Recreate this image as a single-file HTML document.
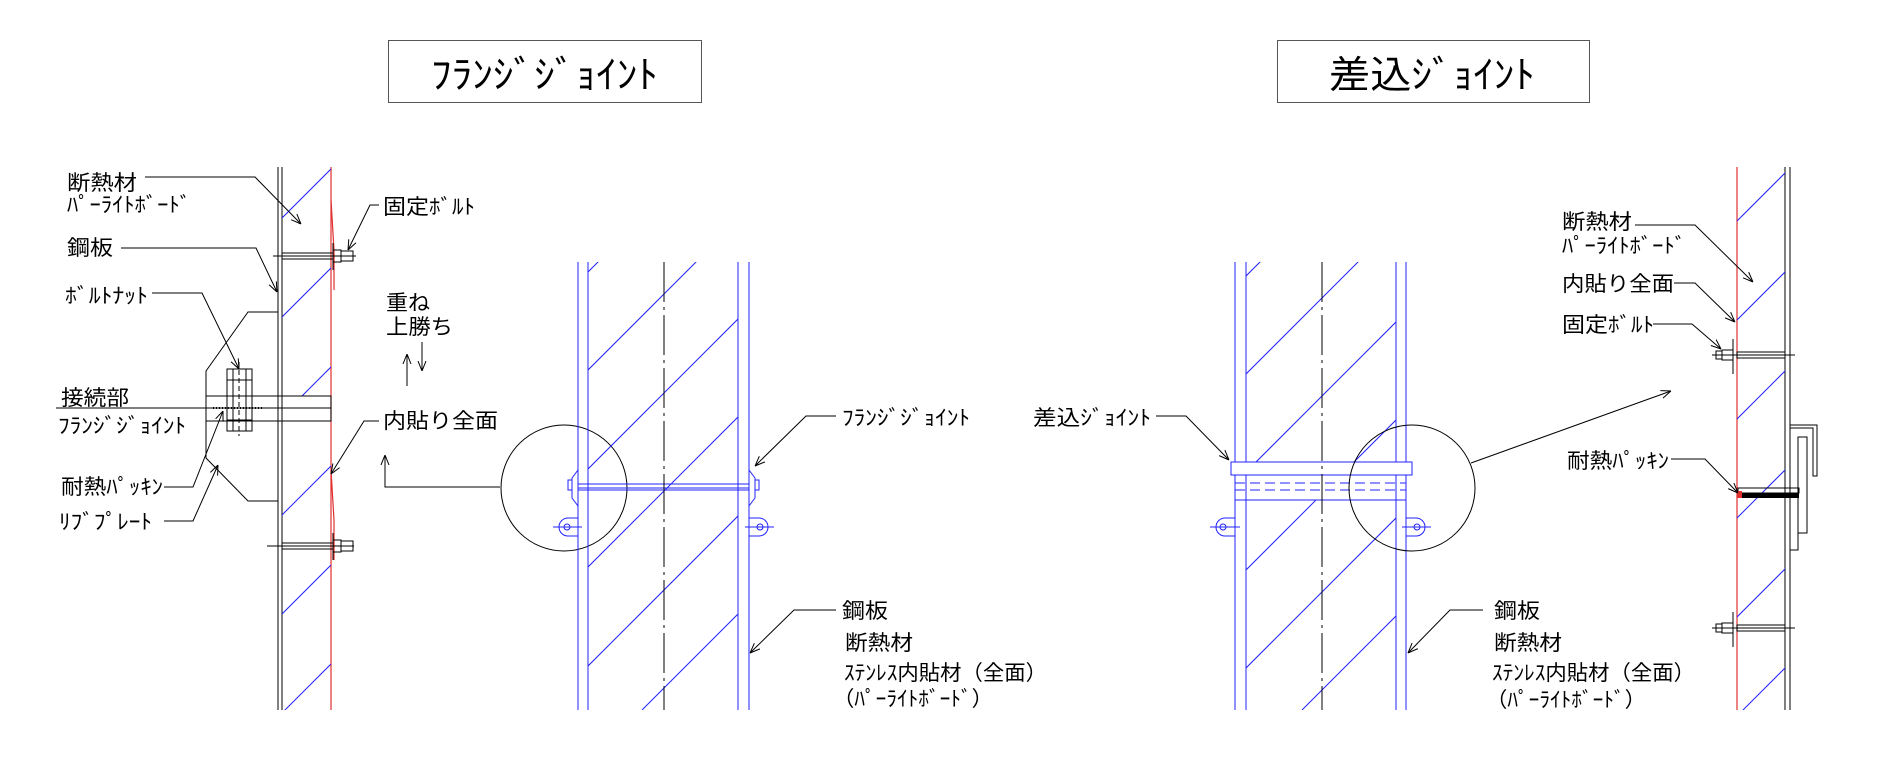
<!DOCTYPE html>
<html><head><meta charset="utf-8"><style>
html,body{margin:0;padding:0;background:#fff;overflow:hidden;width:1900px;height:777px;}
svg{display:block;}
text{font-family:"Liberation Sans","Noto Sans CJK JP",sans-serif;fill:#000;}
</style></head><body>
<svg width="1900" height="777" viewBox="0 0 1900 777" xmlns="http://www.w3.org/2000/svg">
<defs>
<clipPath id="cL"><rect x="282" y="167" width="49" height="229"/><rect x="282" y="421" width="49" height="289"/></clipPath>
<clipPath id="c1"><rect x="588" y="262" width="150" height="448"/></clipPath>
<clipPath id="c2"><rect x="1246" y="262" width="150" height="448"/></clipPath>
<clipPath id="cR"><rect x="1737" y="167" width="48" height="326"/><rect x="1737" y="498" width="48" height="212"/></clipPath>
<marker id="ar" viewBox="0 0 10 10" refX="10" refY="5" markerWidth="10" markerHeight="10" orient="auto" markerUnits="userSpaceOnUse"><path d="M0,1 L10,5 L0,9" fill="none" stroke="#000" stroke-width="1"/></marker>
</defs>

<rect x="388.5" y="40.5" width="313" height="62" fill="none" stroke="#555" stroke-width="1"/>
<text x="431" y="88" font-size="38" textLength="227" lengthAdjust="spacingAndGlyphs">ﾌﾗﾝｼﾞｼﾞｮｲﾝﾄ</text>
<rect x="1277.5" y="40.5" width="312" height="62" fill="none" stroke="#555" stroke-width="1"/>
<text x="1329" y="88" font-size="38" textLength="206" lengthAdjust="spacingAndGlyphs">差込ｼﾞｮｲﾝﾄ</text>

<g stroke="#000" stroke-width="1" fill="none">
<line x1="278" y1="167" x2="278" y2="710"/>
<line x1="282" y1="167" x2="282" y2="710"/>
</g>
<line x1="331" y1="167" x2="331" y2="710" stroke="#e03030" stroke-width="1.2"/>
<g stroke="#e03030" stroke-width="1.2" fill="none">
<path d="M331,200 L334,250 L334,290"/><path d="M331,470 L334,520 L334,560"/>
</g>
<g clip-path="url(#cL)" stroke="#2020ff" stroke-width="1">
<line x1="250" y1="250" x2="400" y2="100"/><line x1="250" y1="349" x2="400" y2="199"/><line x1="250" y1="448" x2="400" y2="298"/><line x1="250" y1="547" x2="400" y2="397"/><line x1="250" y1="646" x2="400" y2="496"/><line x1="250" y1="745" x2="400" y2="595"/>
</g>
<g stroke="#000" stroke-width="1" fill="none">
<line x1="273" y1="256" x2="356" y2="256"/>
<rect x="282" y="253" width="51" height="6"/>
<rect x="333" y="250" width="8" height="12"/><rect x="341" y="251" width="12" height="10"/>
<line x1="333" y1="243" x2="333" y2="270"/>
<line x1="267" y1="546" x2="354" y2="546"/>
<rect x="282" y="543" width="51" height="6"/>
<rect x="333" y="540" width="8" height="12"/><rect x="341" y="541" width="12" height="10"/>
<line x1="333" y1="533" x2="333" y2="560"/>
<polyline points="278,312 248,312 206,371 206,458 248,501 278,501"/>
<rect x="206" y="396" width="125" height="25"/>
<line x1="56" y1="408" x2="331" y2="408"/>
<rect x="227" y="369" width="25" height="62"/>
<line x1="233" y1="369" x2="233" y2="431"/><line x1="246" y1="369" x2="246" y2="431"/>
<line x1="227" y1="380" x2="252" y2="380"/><line x1="227" y1="420" x2="252" y2="420"/>
<line x1="239" y1="362" x2="239" y2="436" stroke-dasharray="5,3"/>
</g>
<line x1="213" y1="408" x2="264" y2="408" stroke="#000" stroke-width="2" stroke-dasharray="1,2"/>

<g font-size="21">
<text x="67" y="190" textLength="70" lengthAdjust="spacingAndGlyphs">断熱材</text>
<text x="67" y="212" textLength="124" lengthAdjust="spacingAndGlyphs">ﾊﾟｰﾗｲﾄﾎﾞｰﾄﾞ</text>
<text x="67" y="255" textLength="46" lengthAdjust="spacingAndGlyphs">鋼板</text>
<text x="65" y="303" textLength="83" lengthAdjust="spacingAndGlyphs">ﾎﾞﾙﾄﾅｯﾄ</text>
<text x="61" y="405" textLength="68" lengthAdjust="spacingAndGlyphs">接続部</text>
<text x="58" y="433" textLength="128" lengthAdjust="spacingAndGlyphs">ﾌﾗﾝｼﾞｼﾞｮｲﾝﾄ</text>
<text x="61" y="494" textLength="102" lengthAdjust="spacingAndGlyphs">耐熱ﾊﾟｯｷﾝ</text>
<text x="59" y="529" textLength="93" lengthAdjust="spacingAndGlyphs">ﾘﾌﾞﾌﾟﾚｰﾄ</text>
<text x="383" y="214" textLength="92" lengthAdjust="spacingAndGlyphs">固定ﾎﾞﾙﾄ</text>
<text x="386" y="310" textLength="44" lengthAdjust="spacingAndGlyphs">重ね</text>
<text x="386" y="334" textLength="67" lengthAdjust="spacingAndGlyphs">上勝ち</text>
<text x="383" y="428" textLength="115" lengthAdjust="spacingAndGlyphs">内貼り全面</text>
</g>
<g stroke="#000" stroke-width="1" fill="none">
<polyline points="145,177 255,177 301,224" marker-end="url(#ar)"/>
<polyline points="121,248 256,248 277,292" marker-end="url(#ar)"/>
<polyline points="152,293 202,293 239,369" marker-end="url(#ar)"/>
<polyline points="164,487 193,487 223,411" marker-end="url(#ar)"/>
<polyline points="164,521 193,521 218,465" marker-end="url(#ar)"/>
<polyline points="379,205 370,205 348,250" marker-end="url(#ar)"/>
<polyline points="379,421 364,421 331,474" marker-end="url(#ar)"/>
<line x1="407" y1="386" x2="407" y2="354" marker-end="url(#ar)"/>
<line x1="422" y1="342" x2="422" y2="371" marker-end="url(#ar)"/>
<polyline points="500,487 385,487 385,455" marker-end="url(#ar)"/>
<circle cx="564" cy="488" r="63"/>
</g>

<g stroke="#2020ff" stroke-width="1" fill="none">
<line x1="578" y1="262" x2="578" y2="710"/><line x1="588" y1="262" x2="588" y2="710"/>
<line x1="738" y1="262" x2="738" y2="710"/><line x1="749" y1="262" x2="749" y2="710"/>
<g clip-path="url(#c1)">
<line x1="150" y1="710" x2="600" y2="260"/><line x1="248" y1="710" x2="698" y2="260"/><line x1="347" y1="710" x2="797" y2="260"/><line x1="445" y1="710" x2="895" y2="260"/><line x1="544" y1="710" x2="994" y2="260"/><line x1="642" y1="710" x2="1092" y2="260"/><line x1="741" y1="710" x2="1191" y2="260"/>
</g>
<rect x="578" y="484" width="171" height="4"/>
<line x1="578" y1="490" x2="749" y2="490"/>
<path d="M578,470 L572,478 L572,498 L578,506"/><path d="M749,470 L755,478 L755,498 L749,506"/>
<rect x="568" y="480" width="4" height="10"/><rect x="755" y="480" width="4" height="10"/>
<path d="M578,518 L568,518 A9,9 0 0 0 568,536 L578,536"/><circle cx="567" cy="527" r="3"/><line x1="553" y1="527" x2="582" y2="527"/>
<path d="M749,518 L759,518 A9,9 0 0 1 759,536 L749,536"/><circle cx="760" cy="527" r="3"/><line x1="745" y1="527" x2="774" y2="527"/>
</g>
<line x1="664" y1="262" x2="664" y2="710" stroke="#000" stroke-width="1" stroke-dasharray="40,5,3,5"/>
<g font-size="21">
<text x="842" y="425" textLength="128" lengthAdjust="spacingAndGlyphs">ﾌﾗﾝｼﾞｼﾞｮｲﾝﾄ</text>
<text x="842" y="618" textLength="46" lengthAdjust="spacingAndGlyphs">鋼板</text>
<text x="845" y="650" textLength="68" lengthAdjust="spacingAndGlyphs">断熱材</text>
<text x="844" y="680" textLength="203" lengthAdjust="spacingAndGlyphs">ｽﾃﾝﾚｽ内貼材（全面）</text>
<text x="833" y="706" textLength="160" lengthAdjust="spacingAndGlyphs">（ﾊﾟｰﾗｲﾄﾎﾞｰﾄﾞ）</text>
</g>
<g stroke="#000" stroke-width="1" fill="none">
<polyline points="836,416 806,416 755,466" marker-end="url(#ar)"/>
<polyline points="836,610 794,610 750,653" marker-end="url(#ar)"/>
</g>

<g stroke="#2020ff" stroke-width="1" fill="none">
<line x1="1235" y1="262" x2="1235" y2="710"/><line x1="1246" y1="262" x2="1246" y2="710"/>
<line x1="1396" y1="262" x2="1396" y2="710"/><line x1="1406" y1="262" x2="1406" y2="710"/>
<g clip-path="url(#c2)">
<line x1="812" y1="710" x2="1262" y2="260"/><line x1="910" y1="710" x2="1360" y2="260"/><line x1="1008" y1="710" x2="1458" y2="260"/><line x1="1106" y1="710" x2="1556" y2="260"/><line x1="1204" y1="710" x2="1654" y2="260"/><line x1="1302" y1="710" x2="1752" y2="260"/><line x1="1400" y1="710" x2="1850" y2="260"/>
</g>
<rect x="1231" y="462" width="181" height="13" fill="#fff"/>
<rect x="1235" y="475" width="171" height="25" fill="#fff"/>
<line x1="1235" y1="483" x2="1406" y2="483" stroke-dasharray="10,5"/>
<line x1="1235" y1="490" x2="1406" y2="490" stroke-dasharray="10,5"/>
<line x1="1246" y1="475" x2="1246" y2="500"/><line x1="1396" y1="475" x2="1396" y2="500"/>
<path d="M1235,518 L1225,518 A9,9 0 0 0 1225,536 L1235,536"/><circle cx="1223" cy="527" r="3"/><line x1="1210" y1="527" x2="1240" y2="527"/>
<path d="M1406,518 L1416,518 A9,9 0 0 1 1416,536 L1406,536"/><circle cx="1417" cy="527" r="3"/><line x1="1402" y1="527" x2="1431" y2="527"/>
</g>
<line x1="1322" y1="262" x2="1322" y2="710" stroke="#000" stroke-width="1" stroke-dasharray="40,5,3,5"/>
<g font-size="21">
<text x="1033" y="425" textLength="118" lengthAdjust="spacingAndGlyphs">差込ｼﾞｮｲﾝﾄ</text>
<text x="1494" y="618" textLength="46" lengthAdjust="spacingAndGlyphs">鋼板</text>
<text x="1494" y="650" textLength="68" lengthAdjust="spacingAndGlyphs">断熱材</text>
<text x="1492" y="680" textLength="203" lengthAdjust="spacingAndGlyphs">ｽﾃﾝﾚｽ内貼材（全面）</text>
<text x="1486" y="707" textLength="160" lengthAdjust="spacingAndGlyphs">（ﾊﾟｰﾗｲﾄﾎﾞｰﾄﾞ）</text>
</g>
<g stroke="#000" stroke-width="1" fill="none">
<polyline points="1156,416 1186,416 1229,460" marker-end="url(#ar)"/>
<polyline points="1483,610 1450,610 1408,653" marker-end="url(#ar)"/>
<circle cx="1412" cy="488" r="63"/>
<line x1="1471" y1="463" x2="1671" y2="391" marker-end="url(#ar)"/>
</g>

<g stroke="#000" stroke-width="1" fill="none">
<line x1="1785" y1="167" x2="1785" y2="710"/><line x1="1790" y1="167" x2="1790" y2="710"/>
</g>
<line x1="1737" y1="167" x2="1737" y2="710" stroke="#e03030" stroke-width="1.2"/>
<g clip-path="url(#cR)" stroke="#2020ff" stroke-width="1">
<line x1="1700" y1="258" x2="1800" y2="158"/><line x1="1700" y1="357" x2="1800" y2="257"/><line x1="1700" y1="456" x2="1800" y2="356"/><line x1="1700" y1="555" x2="1800" y2="455"/><line x1="1700" y1="654" x2="1800" y2="554"/><line x1="1700" y1="753" x2="1800" y2="653"/>
</g>
<g stroke="#000" stroke-width="1" fill="none">
<line x1="1712" y1="355" x2="1795" y2="355"/>
<rect x="1737" y="352" width="48" height="6"/>
<rect x="1722" y="350" width="11" height="10"/><rect x="1716" y="351" width="6" height="8"/>
<line x1="1733" y1="339" x2="1733" y2="374"/>
<line x1="1712" y1="628" x2="1795" y2="628"/>
<rect x="1737" y="625" width="48" height="6"/>
<rect x="1722" y="623" width="11" height="10"/><rect x="1716" y="624" width="6" height="8"/>
<line x1="1733" y1="612" x2="1733" y2="647"/>
<polyline points="1790,425 1817,425 1817,476 1813,476 1813,428 1790,428"/>
<rect x="1798" y="437" width="9" height="96"/>
<polyline points="1790,550 1798,550 1798,533"/>
<rect x="1738" y="488" width="61" height="5"/>
</g>
<rect x="1738" y="493" width="61" height="5" fill="#000"/>
<rect x="1737" y="491" width="5" height="7" fill="#e03030"/>
<g font-size="21">
<text x="1562" y="229" textLength="70" lengthAdjust="spacingAndGlyphs">断熱材</text>
<text x="1562" y="253" textLength="124" lengthAdjust="spacingAndGlyphs">ﾊﾟｰﾗｲﾄﾎﾞｰﾄﾞ</text>
<text x="1562" y="291" textLength="112" lengthAdjust="spacingAndGlyphs">内貼り全面</text>
<text x="1562" y="332" textLength="92" lengthAdjust="spacingAndGlyphs">固定ﾎﾞﾙﾄ</text>
<text x="1567" y="468" textLength="102" lengthAdjust="spacingAndGlyphs">耐熱ﾊﾟｯｷﾝ</text>
</g>
<g stroke="#000" stroke-width="1" fill="none">
<polyline points="1635,225 1695,225 1753,282" marker-end="url(#ar)"/>
<polyline points="1674,283 1695,283 1735,322" marker-end="url(#ar)"/>
<polyline points="1653,324 1692,324 1721,349" marker-end="url(#ar)"/>
<polyline points="1671,459 1705,459 1738,493" marker-end="url(#ar)"/>
</g>
</svg>
</body></html>
